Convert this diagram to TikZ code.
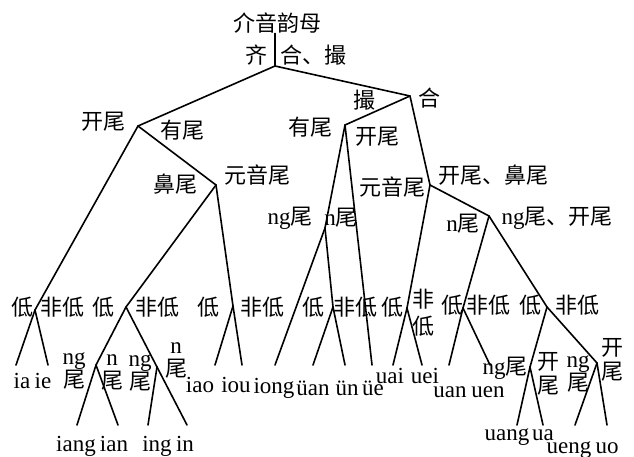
\documentclass[tikz,border=0pt]{standalone}
\usepackage{fontspec}
\setmainfont{Liberation Serif}
\newfontfamily\cjk{Noto Sans CJK SC}
\newcommand\zhw[1]{{\cjk\fontsize{22}{23}\selectfont #1}}
\begin{document}
\begin{tikzpicture}[x=1pt,y=-1pt,
  edge/.style={line width=1.6pt, line cap=round, line join=round},
  zh/.style={inner sep=0pt, font={\cjk\fontsize{22}{24}\selectfont}},
  mix/.style={inner sep=0pt, align=center, font={\fontsize{23}{23}\selectfont}},
  lat/.style={inner sep=0pt, anchor=base, font={\fontsize{23}{24}\selectfont}}]
\useasboundingbox (0,0) rectangle (634,457);
\fill[white] (0,0) rectangle (634,457);
% branch points
\coordinate (r) at (275,66);
\coordinate (A) at (138,126);
\coordinate (B) at (410,96);
\coordinate (C) at (345,125);
\coordinate (D) at (430,185);
\coordinate (F) at (489,216);
\coordinate (M) at (216,185);
\coordinate (S) at (325,228);
\coordinate (K) at (35,310);
\coordinate (L) at (126,307);
\coordinate (N) at (233,306);
\coordinate (T) at (333,307);
\coordinate (E) at (407,308);
\coordinate (G) at (463,308);
\coordinate (H) at (547,307);
\coordinate (P) at (96,365);
\coordinate (Q) at (157,367);
\coordinate (J) at (530,367);
\coordinate (I) at (597,363);
% line ends
\coordinate (e1) at (16,365);
\coordinate (e2) at (48,365);
\coordinate (e3) at (77,425);
\coordinate (e4) at (118,425);
\coordinate (e5) at (148,425);
\coordinate (e6) at (187,425);
\coordinate (e7) at (215,365);
\coordinate (e8) at (242,365);
\coordinate (e9) at (275,365);
\coordinate (e10) at (313,365);
\coordinate (e11) at (345,365);
\coordinate (e12) at (372,365);
\coordinate (e13) at (393,365);
\coordinate (e14) at (422,365);
\coordinate (e15) at (449,365);
\coordinate (e16) at (490,365);
\coordinate (e17) at (517,425);
\coordinate (e18) at (543,425);
\coordinate (e19) at (575,425);
\coordinate (e20) at (607,425);
% root
\node[zh] (root) at (277,23) {介音韵母};
\draw[edge] (r |- root.south) -- (r);
\node[zh] (lq) at (256,55) {齐};
\node[zh] (lhc) at (313,55) {合、撮};
% tree edges
\draw[edge] (r) -- (A);
\draw[edge] (r) -- (B);
\draw[edge] (A) -- (K);
\draw[edge] (A) -- (M);
\draw[edge] (K) -- (e1);
\draw[edge] (K) -- (e2);
\draw[edge] (M) -- (L);
\draw[edge] (M) -- (N);
\draw[edge] (L) -- (P);
\draw[edge] (L) -- (Q);
\draw[edge] (P) -- (e3);
\draw[edge] (P) -- (e4);
\draw[edge] (Q) -- (e5);
\draw[edge] (Q) -- (e6);
\draw[edge] (N) -- (e7);
\draw[edge] (N) -- (e8);
\draw[edge] (B) -- (C);
\draw[edge] (B) -- (D);
\draw[edge] (C) -- (S);
\draw[edge] (C) -- (e12);
\draw[edge] (S) -- (e9);
\draw[edge] (S) -- (T);
\draw[edge] (T) -- (e10);
\draw[edge] (T) -- (e11);
\draw[edge] (D) -- (E);
\draw[edge] (D) -- (F);
\draw[edge] (E) -- (e13);
\draw[edge] (E) -- (e14);
\draw[edge] (F) -- (G);
\draw[edge] (F) -- (H);
\draw[edge] (G) -- (e15);
\draw[edge] (G) -- (e16);
\draw[edge] (H) -- (J);
\draw[edge] (H) -- (I);
\draw[edge] (J) -- (e17);
\draw[edge] (J) -- (e18);
\draw[edge] (I) -- (e19);
\draw[edge] (I) -- (e20);
% level labels
\node[zh] (lA1) at (103,122) {开尾};
\node[zh] (lA2) at (182,130) {有尾};
\node[zh] (lB1) at (364,100) {撮};
\node[zh] (lB2) at (429,98) {合};
\node[zh] (lC1) at (310,127) {有尾};
\node[zh] (lC2) at (377,137) {开尾};
\node[zh] (lD1) at (392,187) {元音尾};
\node[zh] (lD2) at (493,175) {开尾、鼻尾};
\node[mix] (lF1) at (463,224) {n\zhw{尾}};
\node[mix] (lF2) at (557,218) {ng\zhw{尾、开尾}};
\node[zh] (lM1) at (175,184) {鼻尾};
\node[zh] (lM2) at (257,175) {元音尾};
\node[mix] (lS1) at (290,218) {ng\zhw{尾}};
\node[mix] (lS2) at (341,218) {n\zhw{尾}};
% 低 / 非低
\node[zh] (lK1) at (22,307) {低};
\node[zh] (lK2) at (62,307) {非低};
\node[zh] (lL1) at (103,307) {低};
\node[zh] (lL2) at (157,307) {非低};
\node[zh] (lN1) at (208,307) {低};
\node[zh] (lN2) at (262,307) {非低};
\node[zh] (lT1) at (313,307) {低};
\node[zh] (lT2) at (355,307) {非低};
\node[zh] (lE1) at (392,307) {低};
\node[zh, align=center] (lE2) at (423,313) {非\\[3pt]低};
\node[zh] (lG1) at (452,305) {低};
\node[zh] (lG2) at (488,305) {非低};
\node[zh] (lH1) at (530,305) {低};
\node[zh] (lH2) at (577,305) {非低};
% lower labels
\node[mix] (lP1) at (74,371) {ng\\\zhw{尾}};
\node[mix] (lP2) at (112,372) {n\\\zhw{尾}};
\node[mix] (lQ1) at (140,373) {ng\\\zhw{尾}};
\node[mix] (lQ2) at (176,360) {n\\\zhw{尾}};
\node[mix] (lJ1) at (505,368) {ng\zhw{尾}};
\node[zh, align=center] (lJ2) at (548,374) {开\\尾};
\node[mix] (lI1) at (578,374) {ng\\\zhw{尾}};
\node[zh, align=center] (lI2) at (612,360) {开\\尾};
% leaves
\node[lat] (ia) at (22,388) {ia};
\node[lat] (ie) at (43,388) {ie};
\node[lat] (iang) at (76,451) {iang};
\node[lat] (ian) at (114,451) {ian};
\node[lat] (ing) at (157,451) {ing};
\node[lat] (in) at (185,451) {in};
\node[lat] (iao) at (200,392) {iao};
\node[lat] (iou) at (236,392) {iou};
\node[lat] (iong) at (274,393) {iong};
\node[lat] (yuan) at (313,395) {üan};
\node[lat] (yun) at (347,395) {ün};
\node[lat] (yue) at (373,395) {üe};
\node[lat] (uai) at (390,383) {uai};
\node[lat] (uei) at (425,383) {uei};
\node[lat] (uan) at (450,397) {uan};
\node[lat] (uen) at (488,397) {uen};
\node[lat] (uang) at (507,440) {uang};
\node[lat] (ua) at (543,440) {ua};
\node[lat] (ueng) at (569,453) {ueng};
\node[lat] (uo) at (607,453) {uo};
\end{tikzpicture}
\end{document}
